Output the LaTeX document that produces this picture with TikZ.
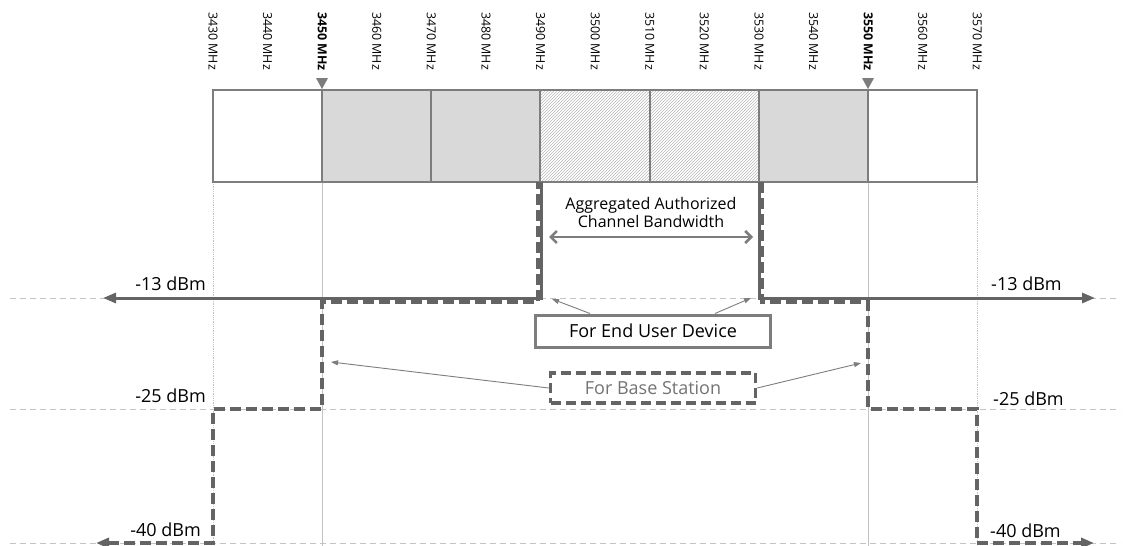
\documentclass[tikz,border=0pt]{standalone}
\usepackage{fontspec}
\setmainfont{Open Sans}
\usetikzlibrary{patterns,arrows.meta}
\definecolor{linegray}{RGB}{100,100,100}
\definecolor{boxgray}{RGB}{125,125,125}
\definecolor{cellgray}{RGB}{217,217,217}
\definecolor{guidegray}{RGB}{195,195,195}
\definecolor{textgray}{RGB}{115,115,115}

\begin{document}
\begin{tikzpicture}[x=1pt,y=-1pt,>={Triangle[length=13pt,width=10pt]},
  freqlbl/.style={rotate=-90,anchor=west,inner sep=0pt,font=\fontsize{12.4}{14}\selectfont},
  dbm/.style={inner sep=0pt,font=\fontsize{18}{20}\selectfont},
  cell/.style={draw=boxgray,line width=1.5pt},
  guide/.style={guidegray,line width=0.8pt,dash pattern=on 6pt off 4pt},
  usermask/.style={linegray,line width=3pt},
  basemask/.style={linegray,line width=4pt,dash pattern=on 11pt off 5pt},
  pointer/.style={boxgray,line width=0.9pt,-{Triangle[length=7pt,width=5pt]}}]
\useasboundingbox (0,0) rectangle (1125,546);
 \pgfmathsetmacro{\step}{5.46}
 % frequency labels
 \foreach \f in {3430,3440,...,3570}{
   \pgfmathsetmacro{\xf}{213+(\f-3430)*\step}
   \node[freqlbl] (f\f) at (\xf,12) {\ifnum\f=3450\bfseries\fi\ifnum\f=3550\bfseries\fi\f\ MHz};
 }
 % guide lines
 \draw[guide] (10,298.5) -- (1120,298.5);
 \draw[guide] (10,409) -- (1120,409);
 \draw[guide] (10,543) -- (1120,543);
 \draw[guidegray,line width=0.8pt,densely dotted] (213,182) -- (213,546);
 \draw[guidegray,line width=0.8pt,densely dotted] (977,182) -- (977,546);
 \draw[guidegray,line width=0.9pt] (322,182) -- (322,546);
 \draw[guidegray,line width=0.9pt] (868,182) -- (868,546);
 % channel boxes
 \draw[cell,fill=white] (213,90) rectangle (322,182);
 \draw[cell,fill=cellgray] (322,90) rectangle (431,182);
 \draw[cell,fill=cellgray] (431,90) rectangle (540,182);
 \draw[cell,pattern=north east lines,pattern color=gray!55] (540,90) rectangle (650,182);
 \draw[cell,pattern=north east lines,pattern color=gray!55] (650,90) rectangle (759,182);
 \draw[cell,fill=cellgray] (759,90) rectangle (868,182);
 \draw[cell,fill=white] (868,90) rectangle (977,182);
 \fill[boxgray] (316,78) -- (328,78) -- (322,89) -- cycle;
 \fill[boxgray] (862,78) -- (874,78) -- (868,89) -- cycle;

 % base station mask
 \draw[basemask,<-] (96,543) -- (213,543) -- (213,409) -- (322,409) -- (322,302) -- (538,302) -- (538,182);
 \draw[basemask,->] (762,182) -- (762,302) -- (868,302) -- (868,409) -- (977,409) -- (977,543) -- (1094,543);
 % end user mask
 \draw[usermask,<-] (103,298) -- (541,298) -- (541,182);
 \draw[usermask,->] (759,182) -- (759,298) -- (1095,298);

 % levels
 \node[dbm,anchor=base east] (l13) at (206,290) {-13 dBm};
 \node[dbm,anchor=base west] (r13) at (991,290) {-13 dBm};
 \node[dbm,anchor=base east] (l25) at (206,402) {-25 dBm};
 \node[dbm,anchor=base west] (r25) at (993,405) {-25 dBm};
 \node[dbm,anchor=base east] (l40) at (201,536) {-40 dBm};
 \node[dbm,anchor=base west] (r40) at (990,537) {-40 dBm};

 % bandwidth
 \node[align=center,inner sep=0pt,font=\fontsize{16}{18}\selectfont] (agg) at (651,212) {Aggregated Authorized\\Channel Bandwidth};
 \coordinate (bwl) at (549,237);
 \coordinate (bwr) at (753,237);
 \draw[boxgray,line width=2.5pt,{Straight Barb[length=6pt,width=12pt]}-{Straight Barb[length=6pt,width=12pt]}] (bwl) -- (bwr);

 % legends
 \node[draw=boxgray,line width=3pt,minimum width=235pt,minimum height=32pt,inner sep=0pt,font=\fontsize{18}{20}\selectfont] (eud) at (653,331) {For End User Device};
 \node[draw=linegray,line width=3.5pt,dash pattern=on 10pt off 5pt,minimum width=205pt,minimum height=30pt,inner sep=0pt,text=textgray,font=\fontsize{18}{20}\selectfont] (bs) at (653,388) {For Base Station};
 \coordinate (eudl) at (552,299);
 \coordinate (eudr) at (751,298);
 \coordinate (bsl) at (331,362);
 \coordinate (bsr) at (861,363);
 \draw[pointer] ([xshift=56pt]eud.north west) -- (eudl);
 \draw[pointer] ([xshift=-57pt]eud.north east) -- (eudr);
 \draw[pointer] (bs.west) -- (bsl);
 \draw[pointer] (bs.east) -- (bsr);
\end{tikzpicture}
\end{document}
